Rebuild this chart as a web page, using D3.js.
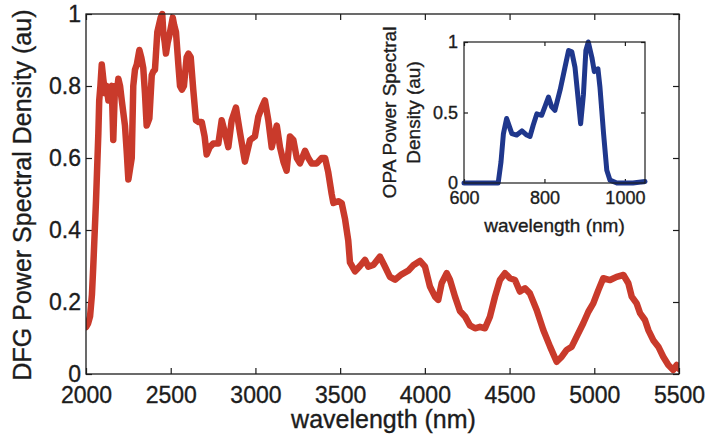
<!DOCTYPE html>
<html>
<head>
<meta charset="utf-8">
<script src="https://cdn.jsdelivr.net/npm/d3@7"></script>
<style>
  html, body { margin: 0; padding: 0; background: #fff; }
  svg { display: block; }
  text { font-family: "Liberation Sans", Arial, Helvetica, sans-serif; fill: #1c1c1c; stroke: #1c1c1c; stroke-width: 0.35px; }
</style>
</head>
<body>
<svg id="chart" width="706" height="442"></svg>
<script>
// DFG spectrum: wavelength (nm) and normalised power spectral density
const dfgWavelength = [
  2000, 2012, 2024, 2035, 2043, 2059, 2073, 2078, 2085, 2093, 2102, 2112, 2122, 2132, 2142, 2152,
  2161, 2171, 2181, 2191, 2201, 2211, 2230, 2240, 2250, 2260, 2270, 2279, 2289, 2300, 2315, 2326,
  2338, 2348, 2358, 2366, 2374, 2388, 2397, 2407, 2421, 2441, 2450, 2456, 2465, 2472, 2482, 2492,
  2512, 2520, 2531, 2545, 2555, 2566, 2578, 2594, 2605, 2618, 2633, 2649, 2665, 2683, 2700, 2712,
  2730, 2751, 2781, 2801, 2820, 2840, 2860, 2885, 2909, 2938, 2968, 2997, 3017, 3037, 3056, 3076,
  3096, 3126, 3145, 3165, 3184, 3204, 3224, 3244, 3263, 3293, 3312, 3332, 3362, 3391, 3411, 3430,
  3450, 3460, 3489, 3509, 3529, 3548, 3558, 3588, 3617, 3647, 3666, 3696, 3735, 3765, 3794, 3824,
  3863, 3902, 3932, 3971, 4001, 4030, 4060, 4079, 4099, 4129, 4148, 4178, 4207, 4237, 4266, 4296,
  4325, 4355, 4384, 4414, 4443, 4473, 4502, 4532, 4561, 4591, 4620, 4660, 4699, 4739, 4778, 4808,
  4837, 4867, 4896, 4935, 4965, 4994, 5024, 5053, 5093, 5132, 5172, 5201, 5221, 5250, 5270, 5299,
  5319, 5348, 5378, 5407, 5437, 5466, 5486, 5500
];
const dfgPower = [
  0.13, 0.14, 0.16, 0.22, 0.30, 0.48, 0.67, 0.76, 0.80, 0.86, 0.82, 0.78, 0.80, 0.76, 0.79, 0.80,
  0.65, 0.80, 0.78, 0.82, 0.80, 0.76, 0.69, 0.62, 0.54, 0.57, 0.60, 0.80, 0.845, 0.86, 0.90, 0.88,
  0.85, 0.78, 0.69, 0.70, 0.71, 0.83, 0.84, 0.845, 0.95, 0.99, 1.0, 0.95, 0.92, 0.89, 0.92, 0.94,
  0.99, 0.97, 0.95, 0.86, 0.80, 0.79, 0.80, 0.88, 0.89, 0.88, 0.79, 0.705, 0.70, 0.70, 0.66, 0.61,
  0.63, 0.64, 0.64, 0.705, 0.67, 0.63, 0.705, 0.74, 0.67, 0.59, 0.65, 0.66, 0.715, 0.74, 0.76, 0.705,
  0.63, 0.69, 0.63, 0.59, 0.565, 0.66, 0.65, 0.60, 0.585, 0.62, 0.60, 0.585, 0.585, 0.60, 0.60, 0.56,
  0.50, 0.475, 0.48, 0.475, 0.43, 0.37, 0.31, 0.285, 0.30, 0.317, 0.298, 0.303, 0.326, 0.298, 0.27, 0.262,
  0.277, 0.287, 0.302, 0.314, 0.298, 0.243, 0.215, 0.206, 0.252, 0.28, 0.262, 0.215, 0.175, 0.16, 0.135, 0.127,
  0.131, 0.127, 0.159, 0.215, 0.261, 0.28, 0.266, 0.261, 0.229, 0.238, 0.224, 0.178, 0.122, 0.076, 0.034, 0.048,
  0.067, 0.076, 0.104, 0.141, 0.173, 0.196, 0.233, 0.266, 0.261, 0.27, 0.275, 0.252, 0.215, 0.196, 0.169, 0.15,
  0.122, 0.094, 0.076, 0.048, 0.025, 0.011, 0.025, 0.015
];

// OPA (pump) spectrum shown in the inset
const opaWavelength = [
  600, 650, 685, 692, 698, 706, 719, 731, 744, 756, 764, 772, 781, 793, 801, 810,
  818, 826, 839, 851, 860, 868, 876, 884, 890, 897, 903, 909, 918, 924, 933, 938,
  947, 955, 963, 980, 1020, 1050
];
const opaPower = [
  0, 0, 0, 0.15, 0.35, 0.457, 0.35, 0.34, 0.37, 0.34, 0.33, 0.41, 0.49, 0.48, 0.54, 0.61,
  0.54, 0.515, 0.66, 0.82, 0.94, 0.93, 0.82, 0.59, 0.42, 0.63, 0.94, 1.0, 0.89, 0.79, 0.81, 0.68,
  0.35, 0.09, 0.02, 0, 0, 0.01
];

const mainXTicks = [2000, 2500, 3000, 3500, 4000, 4500, 5000, 5500];
const mainYTicks = [0, 0.2, 0.4, 0.6, 0.8, 1];
const insetXTicks = [600, 800, 1000];
const insetYTicks = [0, 0.5, 1];

const svg = d3.select("#chart");
const ink = "#1c1c1c";

// ---- main panel ----
const main = { left: 86, right: 679, top: 14, bottom: 374 };
const x = d3.scaleLinear().domain([2000, 5500]).range([main.left, main.right]);
const y = d3.scaleLinear().domain([0, 1]).range([main.bottom, main.top]);

function styleAxis(g, fontSize) {
  g.select(".domain").remove();
  g.selectAll(".tick line").attr("stroke", ink).attr("stroke-width", 1.2);
  g.selectAll(".tick text").attr("fill", ink).style("font-size", fontSize + "px")
    .style("font-family", "'Liberation Sans', Arial, Helvetica, sans-serif");
}

svg.append("g")
  .attr("transform", `translate(0,${main.bottom})`)
  .call(d3.axisBottom(x).tickValues(mainXTicks).tickFormat(d3.format("d")).tickSizeInner(-6).tickSizeOuter(0).tickPadding(13))
  .call(g => styleAxis(g, 23));
svg.append("g")
  .attr("transform", `translate(${main.left},0)`)
  .call(d3.axisLeft(y).tickValues(mainYTicks).tickFormat(d => d === 0 || d === 1 ? d3.format("d")(d) : d3.format(".1f")(d)).tickSizeInner(-6).tickSizeOuter(0).tickPadding(5))
  .call(g => styleAxis(g, 23));
// mirrored ticks on top and right
svg.append("g")
  .attr("transform", `translate(0,${main.top})`)
  .call(d3.axisTop(x).tickValues(mainXTicks).tickFormat("").tickSizeInner(-6).tickSizeOuter(0))
  .call(g => styleAxis(g, 23));
svg.append("g")
  .attr("transform", `translate(${main.right},0)`)
  .call(d3.axisRight(y).tickValues(mainYTicks).tickFormat("").tickSizeInner(-6).tickSizeOuter(0))
  .call(g => styleAxis(g, 23));

svg.append("defs").append("clipPath").attr("id", "mainClip")
  .append("rect").attr("x", main.left).attr("y", main.top - 4)
  .attr("width", main.right - main.left).attr("height", main.bottom - main.top + 4);

const dfg = dfgWavelength.map((w, i) => [w, dfgPower[i]]);
svg.append("path")
  .datum(dfg)
  .attr("clip-path", "url(#mainClip)")
  .attr("fill", "none")
  .attr("stroke", "#c93a2b")
  .attr("stroke-width", 6.5)
  .attr("stroke-linejoin", "round")
  .attr("stroke-linecap", "round")
  .attr("d", d3.line().x(d => x(d[0])).y(d => y(d[1])));

svg.append("rect")
  .attr("x", main.left).attr("y", main.top)
  .attr("width", main.right - main.left).attr("height", main.bottom - main.top)
  .attr("fill", "none").attr("stroke", ink).attr("stroke-width", 1.3);

svg.append("text")
  .attr("x", (main.left + main.right) / 2 + 1).attr("y", 428)
  .attr("text-anchor", "middle")
  .style("font-size", "25px")
  .text("wavelength (nm)");

svg.append("text")
  .attr("transform", `translate(31,${(main.top + main.bottom) / 2 + 1}) rotate(-90)`)
  .attr("text-anchor", "middle")
  .style("font-size", "25px")
  .text("DFG Power Spectral Density (au)");

// ---- inset panel ----
const inset = { left: 464, right: 645, top: 42, bottom: 183 };
const xi = d3.scaleLinear().domain([600, 1050]).range([inset.left, inset.right]);
const yi = d3.scaleLinear().domain([0, 1]).range([inset.bottom, inset.top]);

svg.append("rect")
  .attr("x", inset.left).attr("y", inset.top)
  .attr("width", inset.right - inset.left).attr("height", inset.bottom - inset.top)
  .attr("fill", "#fff");

svg.append("g")
  .attr("transform", `translate(0,${inset.bottom})`)
  .call(d3.axisBottom(xi).tickValues(insetXTicks).tickFormat(d3.format("d")).tickSizeInner(-4).tickSizeOuter(0).tickPadding(8))
  .call(g => styleAxis(g, 18));
svg.append("g")
  .attr("transform", `translate(${inset.left},0)`)
  .call(d3.axisLeft(yi).tickValues(insetYTicks).tickFormat(d => d3.format("~g")(d)).tickSizeInner(-4).tickSizeOuter(0).tickPadding(6))
  .call(g => styleAxis(g, 18));
svg.append("g")
  .attr("transform", `translate(0,${inset.top})`)
  .call(d3.axisTop(xi).tickValues(insetXTicks).tickFormat("").tickSizeInner(-4).tickSizeOuter(0))
  .call(g => styleAxis(g, 18));
svg.append("g")
  .attr("transform", `translate(${inset.right},0)`)
  .call(d3.axisRight(yi).tickValues(insetYTicks).tickFormat("").tickSizeInner(-4).tickSizeOuter(0))
  .call(g => styleAxis(g, 18));

const opa = opaWavelength.map((w, i) => [w, opaPower[i]]);
svg.append("path")
  .datum(opa)
  .attr("fill", "none")
  .attr("stroke", "#1f378c")
  .attr("stroke-width", 5)
  .attr("stroke-linejoin", "round")
  .attr("stroke-linecap", "round")
  .attr("d", d3.line().x(d => xi(d[0])).y(d => yi(d[1])));

svg.append("rect")
  .attr("x", inset.left).attr("y", inset.top)
  .attr("width", inset.right - inset.left).attr("height", inset.bottom - inset.top)
  .attr("fill", "none").attr("stroke", ink).attr("stroke-width", 1.2);

svg.append("text")
  .attr("x", (inset.left + inset.right) / 2).attr("y", 232)
  .attr("text-anchor", "middle")
  .style("font-size", "19px")
  .text("wavelength (nm)");

const insetLabel = svg.append("text")
  .attr("transform", `translate(396,${(inset.top + inset.bottom) / 2}) rotate(-90)`)
  .attr("text-anchor", "middle")
  .style("font-size", "19px");
insetLabel.append("tspan").attr("x", 0).attr("dy", 0).text("OPA Power Spectral");
insetLabel.append("tspan").attr("x", 0).attr("dy", 24).text("Density (au)");
</script>
</body>
</html>
